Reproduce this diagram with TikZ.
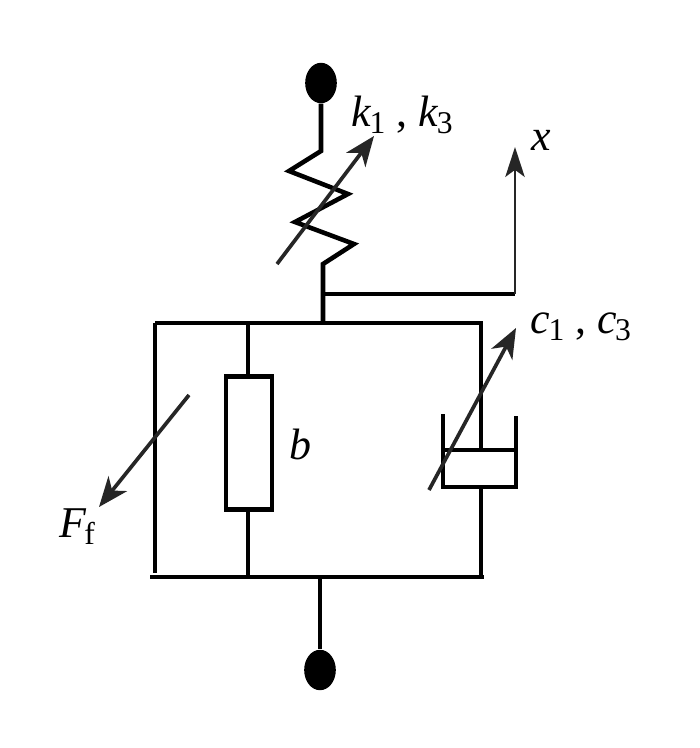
\documentclass[tikz,border=0pt]{standalone}
\usepackage{fontspec}
\setmainfont{Liberation Serif}
\usetikzlibrary{arrows.meta,shapes.geometric}
\newcommand{\lowsub}[1]{\kern-1pt\raisebox{-4pt}{\fontsize{18}{20}\selectfont #1}}
\tikzset{
  bar/.style={line width=2.6pt, black},
  pointer/.style={line width=2.1pt, draw=black!85, -{Stealth[length=17pt, width=13.5pt, inset=5pt, black!85]}},
  thinpointer/.style={line width=1.5pt, draw=black!85, -{Stealth[length=17pt, width=11pt, inset=4pt, black!85]}},
  ball/.style={ellipse, fill=black, minimum width=18pt, minimum height=23pt, inner sep=0pt},
  label/.style={font=\fontsize{25}{28}\selectfont, inner sep=0pt},
}
\begin{document}
\begin{tikzpicture}[x=0.02cm, y=-0.02cm]
  \useasboundingbox (0, 0) rectangle (700, 748);
  \fill[white] (0, 0) rectangle (700, 748);
  % terminals
  \node[ball] (topball) at (321, 83) {};
  \node[ball] (botball) at (320, 670) {};
  % spring
  \coordinate (springend) at (323, 264);
  \coordinate (topmid) at (323, 323);
  \draw[bar, line join=miter] (topball) -- (321, 151) -- (289, 171) -- (348, 194)
    -- (295, 222) -- (354, 244) -- (springend) -- (topmid);
  % output
  \coordinate (xcorner) at (515, 294);
  \coordinate (xtip) at (515, 147);
  \draw[bar] (323, 294) -- (xcorner);
  \draw[thinpointer] (xcorner) -- (xtip);
  % frame
  \coordinate (topleft) at (155, 323);
  \coordinate (topright) at (481, 323);
  \coordinate (botleft) at (150, 577);
  \coordinate (botright) at (484, 577);
  \draw[bar] (topleft) -- (topright) -- (481, 450);
  \draw[bar] (topleft) -- (155, 573);
  \draw[bar] (botleft) -- (botright);
  \draw[bar] (481, 577) -- (481, 487);
  \draw[bar] (320, 577) -- (botball);
  % friction element
  \node[bar, draw, fill=white, inner sep=0pt, minimum width=26pt, minimum height=76pt] (bbox) at (249, 443) {};
  \draw[bar] (bbox.north -| 248, 0) -- (248, 323);
  \draw[bar] (bbox.south -| 248, 0) -- (248, 577);
  % damper
  \draw[bar, line join=miter] (443, 414) -- (443, 487) -- (516, 487) -- (516, 416);
  \draw[bar] (443, 450) -- (516, 450);
  % variable arrows
  \draw[pointer] (277, 264) -- (374, 136);
  \draw[pointer] (429, 490) -- (516, 328);
  \draw[pointer] (189, 395) -- (99, 507);
  % labels
  \node[label] (klabel) at (402, 115) {\textit{k}\lowsub{1} , \textit{k}\lowsub{3}};
  \node[label] (xlabel) at (541, 140) {\textit{x}};
  \node[label] (clabel) at (581, 327) {\textit{c}\lowsub{1} , \textit{c}\lowsub{3}};
  \node[label] (blabel) at (300, 444) {\textit{b}};
  \node[label] (flabel) at (77, 527) {\textit{F}\lowsub{f}};
\end{tikzpicture}
\end{document}
